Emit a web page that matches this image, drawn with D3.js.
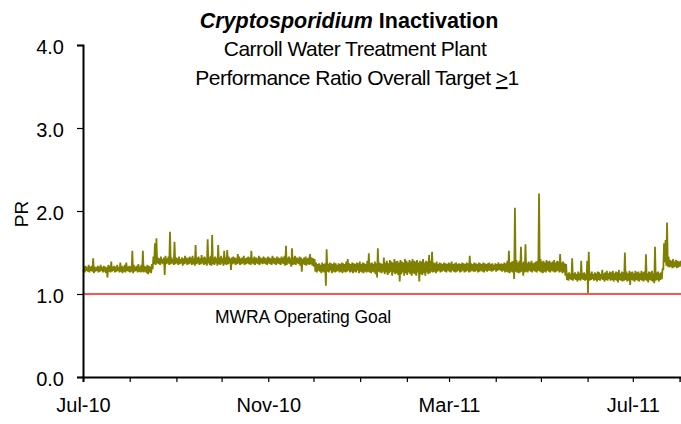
<!DOCTYPE html>
<html>
<head>
<meta charset="utf-8">
<script src="https://cdn.jsdelivr.net/npm/d3@7"></script>
<style>
  html, body { margin: 0; padding: 0; background: #fff; }
  svg { display: block; }
  text { font-family: "Liberation Sans", Arial, sans-serif; fill: #000; }
</style>
</head>
<body>
<svg id="chart" width="681" height="424"></svg>
<script>
// ---------------- DATA ----------------
const titleItalic = "Cryptosporidium";
const titleBold = " Inactivation";
const subtitle1 = "Carroll Water Treatment Plant";
const subtitle2 = "Performance Ratio Overall Target ";
const goalLabel = "MWRA Operating Goal";
const yLabel = "PR";
const yTicks = [0, 1, 2, 3, 4];
const xTickLabels = ["Jul-10", "Nov-10", "Mar-11", "Jul-11"];
const goalValue = 1.0;
const startDate = "2010-07-01";
const endDate = "2011-08-02";

// Daily high / low excursions of PR, segment by segment (day 0 = 1 Jul 2010)
const hiJulAug = [1.33,1.34,1.32,1.35,1.33,1.34,1.43,1.33,1.32,1.34,
  1.33,1.35,1.32,1.34,1.33,1.32,1.35,1.34,1.39,1.33,
  1.34,1.33,1.35,1.32,1.38,1.34,1.33,1.35,1.38,1.33,
  1.34,1.33,1.52,1.35,1.33,1.34,1.36,1.33,1.35,1.52,
  1.34,1.33,1.35,1.34,1.33,1.36];
const loJulAug = [1.27,1.26,1.28,1.27,1.26,1.28,1.27,1.25,1.27,1.28,
  1.26,1.27,1.28,1.26,1.27,1.25,1.20,1.27,1.26,1.27,
  1.28,1.26,1.27,1.28,1.26,1.27,1.25,1.27,1.26,1.28,
  1.27,1.26,1.27,1.25,1.27,1.28,1.26,1.27,1.26,1.27,
  1.26,1.27,1.25,1.24,1.26,1.25];

const hiAugDec = [1.45,1.61,1.67,1.44,
  1.43,1.45,1.42,1.44,1.46,1.43,1.45,1.75,1.44,1.42,
  1.63,1.44,1.43,1.45,1.42,1.44,1.43,1.46,1.44,1.43,
  1.45,1.44,1.46,1.43,1.59,1.44,1.45,1.43,1.47,1.44,
  1.45,1.43,1.66,1.44,1.46,1.71,1.44,1.45,1.43,1.59,
  1.44,1.46,1.43,1.52,1.44,1.53,1.45,1.43,1.44,1.45,
  1.44,1.43,1.48,1.45,1.43,1.44,1.46,1.43,1.44,1.45,
  1.44,1.52,1.43,1.45,1.44,1.43,1.46,1.44,1.43,1.45,
  1.44,1.43,1.45,1.44,1.43,1.46,1.44,1.43,1.45,1.44,
  1.43,1.45,1.44,1.46,1.58,1.44,1.45,1.43,1.55,1.44,
  1.46,1.44,1.43,1.45,1.44,1.42,1.44,1.45,1.43,1.44,
  1.48,1.44,1.43,1.42];
const loAugDec = [1.30,1.36,1.35,1.37,
  1.36,1.35,1.37,1.36,1.23,1.36,1.37,1.35,1.36,1.37,
  1.35,1.36,1.37,1.35,1.36,1.37,1.34,1.36,1.37,1.35,
  1.36,1.37,1.35,1.36,1.34,1.36,1.37,1.35,1.36,1.37,
  1.35,1.36,1.34,1.37,1.35,1.34,1.36,1.35,1.37,1.34,
  1.36,1.35,1.37,1.34,1.36,1.35,1.36,1.37,1.29,1.36,
  1.37,1.35,1.36,1.37,1.35,1.36,1.37,1.35,1.36,1.37,
  1.36,1.35,1.37,1.36,1.35,1.37,1.36,1.35,1.37,1.36,
  1.37,1.36,1.35,1.37,1.36,1.35,1.37,1.36,1.35,1.37,
  1.36,1.35,1.37,1.36,1.34,1.35,1.37,1.36,1.33,1.35,
  1.36,1.35,1.37,1.36,1.34,1.27,1.36,1.35,1.34,1.36,
  1.35,1.36,1.34,1.33];

const hiDecMay = [1.38,1.36,1.37,1.35,1.38,1.36,
  1.37,1.54,1.36,1.38,1.37,1.36,1.38,1.37,1.35,1.37,
  1.36,1.38,1.37,1.36,1.39,1.42,1.37,1.36,1.38,1.37,
  1.36,1.38,1.37,1.39,1.36,1.38,1.37,1.36,1.40,1.49,
  1.37,1.38,1.36,1.39,1.37,1.55,1.38,1.37,1.36,1.44,
  1.38,1.40,1.37,1.41,1.39,1.38,1.42,1.39,1.40,1.38,
  1.41,1.39,1.38,1.42,1.40,1.38,1.41,1.39,1.42,1.40,
  1.39,1.41,1.38,1.40,1.39,1.42,1.38,1.40,1.39,1.47,
  1.40,1.51,1.38,1.37,1.39,1.36,1.38,1.37,1.36,1.38,
  1.37,1.36,1.38,1.37,1.39,1.36,1.37,1.38,1.36,1.37,
  1.36,1.38,1.37,1.36,1.38,1.37,1.46,1.37,1.36,1.38,
  1.37,1.36,1.38,1.37,1.36,1.38,1.37,1.36,1.37,1.38,
  1.36,1.37,1.35,1.37,1.36,1.38,1.36,1.37,1.36,1.38,
  1.37,1.40,1.52,1.38,1.39,1.40,2.04,1.41,1.38,1.40,
  1.57,1.38,1.39,1.60,1.37,1.39,1.38,1.40,1.37,1.38,
  1.39,1.40,2.21,1.42,1.39,1.40,1.38,1.41,1.39,1.40,
  1.38,1.39,1.41,1.38,1.40,1.39,1.48,1.38,1.39,1.37,
  1.36];
const loDecMay = [1.27,1.26,1.28,1.27,1.25,1.27,
  1.26,1.10,1.27,1.26,1.28,1.25,1.27,1.26,1.27,1.28,
  1.26,1.27,1.25,1.27,1.26,1.27,1.28,1.26,1.27,1.25,
  1.27,1.26,1.28,1.25,1.27,1.26,1.25,1.27,1.26,1.27,
  1.26,1.25,1.27,1.26,1.24,1.20,1.27,1.26,1.25,1.27,
  1.24,1.26,1.23,1.25,1.27,1.22,1.26,1.24,1.25,1.23,
  1.15,1.24,1.26,1.22,1.25,1.23,1.26,1.24,1.22,1.25,
  1.24,1.22,1.26,1.15,1.24,1.23,1.25,1.22,1.26,1.24,
  1.25,1.27,1.26,1.27,1.25,1.27,1.28,1.26,1.27,1.28,
  1.27,1.26,1.28,1.27,1.26,1.28,1.27,1.26,1.27,1.28,
  1.26,1.27,1.28,1.26,1.27,1.28,1.26,1.27,1.28,1.27,
  1.27,1.28,1.26,1.27,1.28,1.27,1.26,1.28,1.27,1.28,
  1.28,1.27,1.28,1.29,1.27,1.28,1.29,1.28,1.27,1.28,
  1.26,1.27,1.26,1.25,1.27,1.26,1.18,1.27,1.26,1.25,
  1.26,1.27,1.22,1.26,1.27,1.26,1.28,1.27,1.26,1.28,
  1.27,1.26,1.28,1.27,1.26,1.25,1.27,1.26,1.28,1.27,
  1.26,1.28,1.27,1.26,1.27,1.28,1.26,1.27,1.25,1.26,
  1.22];

const hiMayJul = [1.25,1.26,1.24,1.43,1.25,1.26,1.24,1.27,1.25,
  1.40,1.25,1.26,1.24,1.40,1.51,1.25,1.27,1.24,1.26,
  1.25,1.27,1.26,1.24,1.29,1.25,1.26,1.28,1.25,1.27,
  1.26,1.28,1.25,1.27,1.26,1.29,1.25,1.27,1.26,1.50,
  1.27,1.25,1.28,1.26,1.27,1.25,1.28,1.26,1.27,1.25,
  1.28,1.26,1.27,1.48,1.25,1.27,1.26,1.28,1.25,1.57,
  1.26,1.27,1.25,1.26,1.30];
const loMayJul = [1.17,1.16,1.18,1.17,1.16,1.18,1.17,1.15,1.17,
  1.16,1.18,1.17,1.16,1.17,1.01,1.16,1.17,1.18,1.16,
  1.17,1.15,1.17,1.16,1.18,1.17,1.15,1.17,1.16,1.18,
  1.16,1.17,1.15,1.17,1.16,1.14,1.17,1.16,1.15,1.16,
  1.17,1.15,1.16,1.11,1.17,1.16,1.15,1.17,1.16,1.15,
  1.17,1.16,1.15,1.17,1.16,1.14,1.17,1.16,1.15,1.13,
  1.16,1.17,1.15,1.17,1.18];

const hiJulAug11 = [1.61,1.65,1.86,1.45,1.41,1.40,1.42,1.39,1.41,1.40,1.39,1.40];
const loJulAug11 = [1.30,1.38,1.34,1.33,1.32,1.33,1.31,1.32,1.33,1.31,1.32,1.33];

// ---------------- CHART ----------------
const hi = [].concat(hiJulAug, hiAugDec, hiDecMay, hiMayJul, hiJulAug11);
const lo = [].concat(loJulAug, loAugDec, loDecMay, loMayJul, loJulAug11);

const parse = d3.utcParse("%Y-%m-%d");
const t0 = parse(startDate), t1 = parse(endDate);

const svg = d3.select("#chart");
const x = d3.scaleUtc().domain([t0, t1]).range([83, 681]);
const y = d3.scaleLinear().domain([0, 4]).range([377, 45]);

// series points: low in the morning, high in the evening of each day
const pts = [];
hi.forEach((h, i) => {
  const day = d3.utcDay.offset(t0, i);
  pts.push({ t: d3.utcHour.offset(day, 6), v: lo[i] });
  pts.push({ t: d3.utcHour.offset(day, 18), v: h });
});

// goal line
svg.append("line")
  .attr("x1", x(t0)).attr("x2", x(t1))
  .attr("y1", y(goalValue)).attr("y2", y(goalValue))
  .attr("stroke", "#ff1a1a").attr("stroke-width", 1.5);

// PR series
svg.append("path")
  .datum(pts)
  .attr("fill", "none")
  .attr("stroke", "#808000")
  .attr("stroke-width", 1.8)
  .attr("stroke-linejoin", "miter")
  .attr("d", d3.line().x(d => x(d.t)).y(d => y(d.v)));

// y axis
const yAxis = svg.append("g")
  .attr("transform", `translate(${x(t0)},0)`)
  .call(d3.axisLeft(y).tickValues(yTicks).tickFormat(d3.format(".1f")).tickSize(6).tickPadding(13));
yAxis.select(".domain").attr("stroke", "#000").attr("stroke-width", 2);
yAxis.selectAll(".tick line").attr("stroke", "#000").attr("stroke-width", 1.2);
yAxis.selectAll(".tick text").style("font-size", "20px").attr("dy", "0.40em");

// x axis
const fmt = d3.utcFormat("%b-%y");
const xAxis = svg.append("g")
  .attr("transform", `translate(0,${y(0)})`)
  .call(d3.axisBottom(x)
    .ticks(d3.utcMonth.every(1))
    .tickFormat(d => xTickLabels.includes(fmt(d)) ? fmt(d) : "")
    .tickSize(5).tickPadding(16));
xAxis.select(".domain").attr("stroke", "#000").attr("stroke-width", 2);
xAxis.selectAll(".tick line").attr("stroke", "#000").attr("stroke-width", 1.2);
xAxis.selectAll(".tick text").style("font-size", "20px");

// y label
svg.append("text")
  .attr("transform", "translate(28,214) rotate(-90)")
  .attr("text-anchor", "middle")
  .style("font-size", "19px")
  .text(yLabel);

// goal label
svg.append("text")
  .attr("x", 215).attr("y", 323)
  .style("font-size", "17.5px")
  .style("letter-spacing", "-0.1px")
  .text(goalLabel);

// titles
const tt = svg.append("text")
  .attr("x", 349).attr("y", 28)
  .attr("text-anchor", "middle")
  .style("font-size", "21.5px").style("font-weight", "bold");
tt.append("tspan").style("font-style", "italic").text(titleItalic);
tt.append("tspan").text(titleBold);

svg.append("text")
  .attr("x", 355).attr("y", 56)
  .attr("text-anchor", "middle")
  .style("font-size", "21px").style("letter-spacing", "-0.5px")
  .text(subtitle1);

const st2 = svg.append("text")
  .attr("x", 357).attr("y", 85)
  .attr("text-anchor", "middle")
  .style("font-size", "21px").style("letter-spacing", "-0.5px");
st2.append("tspan").text(subtitle2);
st2.append("tspan").style("text-decoration", "underline").text(">");
st2.append("tspan").text("1");
</script>
</body>
</html>
